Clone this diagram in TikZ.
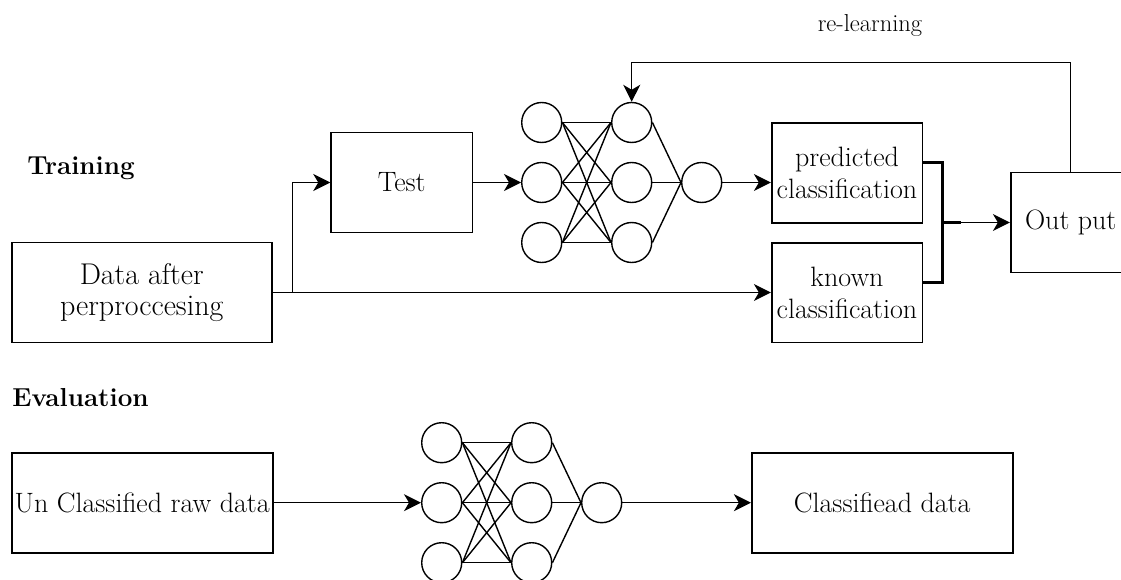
\documentclass[tikz,border=0pt]{standalone}
\usetikzlibrary{arrows.meta}
\begin{document}
\begin{tikzpicture}[x=1pt,y=-1pt,
  box/.style={draw, line width=1.6pt, rectangle, align=center, inner sep=0pt, font=\fontsize{28}{32}\selectfont},
  neuron/.style={draw, circle, line width=1.4pt, minimum size=40pt, inner sep=0pt},
  link/.style={line width=1.4pt},
  arr/.style={line width=1.5pt, -{Stealth[length=17pt,width=17pt,inset=5pt]}},
  bracket/.style={line width=3pt},
  lbl/.style={font=\fontsize{26}{30}\selectfont\bfseries},
]
\useasboundingbox (0,0) rectangle (1121,580);
\clip (0,0) rectangle (1121,580);

% labels
\node[lbl] (train) at (81,168) {Training};
\node[lbl] (eval) at (80.5,398) {Evaluation};
\node[font=\fontsize{24.5}{28}\selectfont] (relearn) at (870,26) {re-learning};

% boxes
\node[box, minimum width=260pt, minimum height=100pt, font=\fontsize{30}{31}\selectfont] (data) at (141.7,292.5) {Data after\\perproccesing};
\node[box, minimum width=141.3pt, minimum height=100pt] (test) at (401.7,182.5) {Test};
\node[box, minimum width=150.6pt, minimum height=99.4pt] (pred) at (847,173) {predicted\\classification};
\node[box, minimum width=150.6pt, minimum height=99.6pt] (known) at (847,292.5) {known\\classification};
\node[box, minimum width=120pt, minimum height=100pt] (out) at (1070.7,222.5) {Out put};
\node[box, minimum width=261pt, minimum height=100pt] (unclass) at (142.2,502.7) {Un Classified raw data};
\node[box, minimum width=261pt, minimum height=100pt] (classd) at (882.2,502.7) {Classifiead data};

% top network
\foreach \i/\y in {1/122.5,2/182.5,3/242.5} {
  \node[neuron] (a\i) at (541.7,\y) {};
  \node[neuron] (b\i) at (631.7,\y) {};
}
\node[neuron] (c) at (701.7,182.5) {};
\foreach \i in {1,2,3} {\foreach \j in {1,2,3} {\draw[link] (a\i.east) -- (b\j.west);}}
\foreach \j in {1,2,3} {\draw[link] (b\j.east) -- (c.west);}

% bottom network
\foreach \i/\y in {1/442.7,2/502.7,3/562.7} {
  \node[neuron] (p\i) at (441.7,\y) {};
  \node[neuron] (q\i) at (531.7,\y) {};
}
\node[neuron] (r) at (601.7,502.7) {};
\foreach \i in {1,2,3} {\foreach \j in {1,2,3} {\draw[link] (p\i.east) -- (q\j.west);}}
\foreach \j in {1,2,3} {\draw[link] (q\j.east) -- (r.west);}

% connectors training
\coordinate (jn) at (292.3,292.5);
\draw[link] (data.east) -- (jn);
\draw[arr] (jn) |- (test.west);
\draw[arr] (jn) -- (known.west);
\draw[arr] (test.east) -- (a2.west);
\draw[arr] (c.east) -- (c.east -| pred.west);
\coordinate (bk) at (942.3,222.5);
\coordinate (bk2) at (960.7,222.5);
\draw[bracket] ([yshift=10.7pt]pred.east) -| (bk) |- ([yshift=9.8pt]known.east);
\draw[bracket] (bk) -- (bk2);
\draw[arr] (bk2) -- (out.west);
\coordinate (fb) at (1070.7,62.7);
\draw[arr] (out.north) -- (fb) -| (b1.north);

% connectors evaluation
\draw[arr] (unclass.east) -- (p2.west);
\draw[arr] (r.east) -- (classd.west);
\end{tikzpicture}
\end{document}
